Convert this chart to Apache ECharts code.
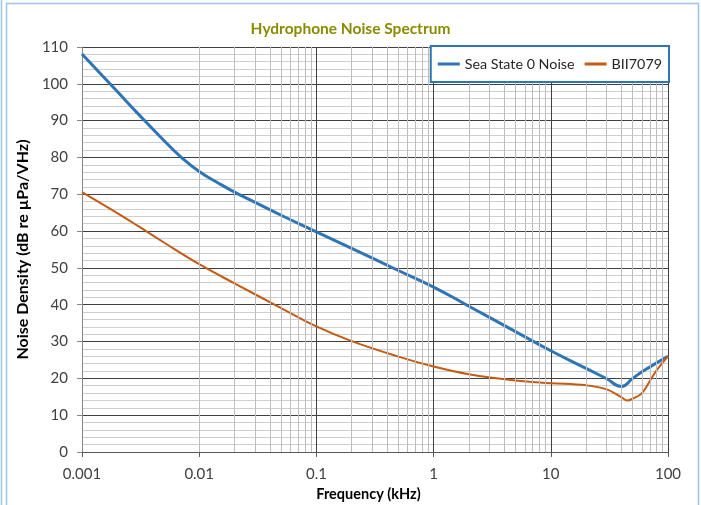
<!DOCTYPE html>
<html>
<head>
<meta charset="utf-8">
<script src="https://cdn.jsdelivr.net/npm/echarts@6/dist/echarts.min.js"></script>
<style>html,body{margin:0;padding:0;background:#fff}#c{width:701px;height:505px}</style>
</head>
<body>
<div id="c"></div>
<script>
var seaFreq = [0.001,0.0015,0.002,0.003,0.005,0.007,0.01,0.015,0.02,0.03,0.05,0.1,0.2,0.5,1,2,5,10,20,30,40,50,60,70,80,100];
var seaVals = [108.1,102.1,97.9,91.9,84.6,80.1,76.2,72.8,70.6,67.8,64.3,59.8,55.3,49.3,44.8,39.6,32.7,27.5,22.7,19.9,17.8,20.0,21.8,23.1,24.2,26.0];
var biiFreq = [0.001,0.002,0.003,0.005,0.01,0.02,0.05,0.1,0.2,0.5,1,2,5,10,20,30,40,45,50,60,70,80,90,100];
var biiVals = [70.6,64.9,61.4,56.9,51.0,45.8,39.1,34.1,30.1,25.9,23.2,21.1,19.4,18.7,18.1,17.0,14.9,14.0,14.5,16.0,19.3,22.2,24.3,26.0];
var seriesNames = ['Sea State 0 Noise','BII7079'];
var xTickLabels = ['0.001','0.01','0.1','1','10','100'];
var decades = [0.001,0.01,0.1,1,10];
var minorMult = [2,3,4,5,6,7,8,9];

function pairs(f, v){ return f.map(function(x,i){ return [x, v[i]]; }); }
var minorLines = [];
decades.forEach(function(d){ minorMult.forEach(function(m){ minorLines.push({xAxis: +(d*m).toPrecision(3)}); }); });

var font = 'Lato, "Open Sans", sans-serif';
var chart = echarts.init(document.getElementById('c'), null, {renderer:'canvas'});
chart.setOption({
  animation: false,
  backgroundColor: '#fff',
  textStyle: {fontFamily: font},
  title: {
    text: 'Hydrophone Noise Spectrum',
    left: 'center', top: 16,
    textStyle: {fontFamily: font, fontSize: 15.5, fontWeight: 'bold', color: '#8a8a00'}
  },
  legend: {
    data: seriesNames,
    right: 32, top: 46, z: 20,
    padding: [11, 7, 11, 7],
    itemWidth: 22, itemHeight: 3, itemGap: 10,
    icon: 'rect',
    borderColor: '#2E75B6', borderWidth: 2, backgroundColor: '#fff',
    textStyle: {fontFamily: font, fontSize: 14.3, color: '#262626'}
  },
  grid: {left: 82, right: 33, top: 47, bottom: 53, outerBoundsMode: 'none', containLabel: false},
  xAxis: {
    type: 'log', logBase: 10, min: 0.001, max: 100,
    name: 'Frequency (kHz)', nameLocation: 'middle', nameGap: 34,
    nameTextStyle: {fontFamily: font, fontSize: 14.5, fontWeight: 'bold', color: '#000', padding: [0, 13, 0, 0]},
    axisLine: {show: true, lineStyle: {color: '#595959', width: 1}},
    axisTick: {show: true, length: 5, lineStyle: {color: '#595959'}},
    axisLabel: {fontFamily: font, fontSize: 15, color: '#404040', margin: 15,
      formatter: function(v){ var s = String(+(+v).toPrecision(1)); return xTickLabels.indexOf(s) >= 0 ? s : ''; }},
    splitLine: {show: true, lineStyle: {color: '#404040', width: 1}}
  },
  yAxis: {
    type: 'value', min: 0, max: 110, interval: 10,
    name: 'Noise Density (dB re µPa/VHz)', nameLocation: 'middle', nameGap: 41,
    nameTextStyle: {fontFamily: font, fontSize: 16, fontWeight: 'bold', color: '#000'},
    axisLine: {show: true, lineStyle: {color: '#868686'}},
    axisTick: {show: true, length: 5, lineStyle: {color: '#868686'}},
    axisLabel: {fontFamily: font, fontSize: 15, color: '#404040', margin: 14},
    splitLine: {show: true, lineStyle: {color: '#404040', width: 1}},
    minorTick: {show: false, splitNumber: 5},
    minorSplitLine: {show: true, lineStyle: {color: '#cfcfcf', width: 1}}
  },
  graphic: [
    {type: 'rect', z: -1, shape: {x: 6.5, y: 3.5, width: 692, height: 510}, style: {fill: 'none', stroke: '#9DC3E6', lineWidth: 1.5}},
    {type: 'line', z: -1, shape: {x1: 1.5, y1: 0, x2: 1.5, y2: 505}, style: {stroke: '#9DC3E6', lineWidth: 1.5}}
  ],
  series: [
    {
      type: 'line', name: '_minor', silent: true, z: 1, data: [], symbol: 'none',
      markLine: {silent: true, symbol: ['none','none'], label: {show: false}, animation: false,
        lineStyle: {color: '#bdbdbd', type: 'solid', width: 1}, emphasis: {disabled: true}, data: minorLines}
    },
    {
      type: 'line', name: seriesNames[0], data: pairs(seaFreq, seaVals), smooth: 0.5,
      showSymbol: false, symbol: 'none', color: '#2E75B6', lineStyle: {width: 3, color: '#2E75B6'}, z: 3
    },
    {
      type: 'line', name: seriesNames[1], data: pairs(biiFreq, biiVals), smooth: 0.4,
      showSymbol: false, symbol: 'none', color: '#C55A11', lineStyle: {width: 2, color: '#C55A11'}, z: 4
    }
  ]
});
</script>
</body>
</html>
